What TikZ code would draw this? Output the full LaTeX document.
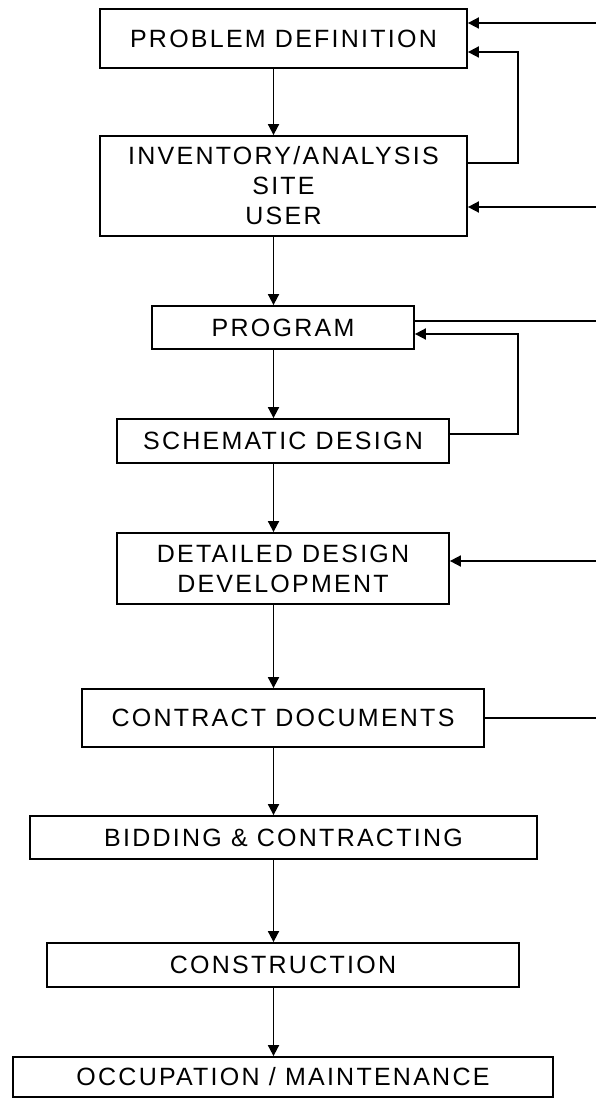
\documentclass[tikz,border=0pt]{standalone}
\usepackage{fontspec}
\setmainfont{Liberation Sans}[LetterSpace=9]
\usetikzlibrary{arrows.meta}
\tikzset{
  box/.style={draw, line width=1.8pt, inner sep=0pt, align=center,
    font=\fontsize{25}{30}\selectfont},
  flow/.style={line width=1.8pt, -{Triangle[length=11pt,width=11pt]}},
  link/.style={line width=1.8pt}
}
\begin{document}
\begin{tikzpicture}[x=1pt,y=-1pt]
\fill[white] (0,0) rectangle (596,1099);
\useasboundingbox (0,0) rectangle (596,1099);
% boxes
\node[box, minimum width=367pt, minimum height=59pt] (pd) at (283.5,38.5) {PROBLEM DEFINITION};
\node[box, minimum width=367pt, minimum height=100pt] (inv) at (283.5,186) {INVENTORY/ANALYSIS\\SITE\\USER};
\node[box, minimum width=262pt, minimum height=43pt] (prog) at (283,327.5) {PROGRAM};
\node[box, minimum width=332pt, minimum height=44pt] (sch) at (283,441) {SCHEMATIC DESIGN};
\node[box, minimum width=332pt, minimum height=71pt] (det) at (283,568.5) {DETAILED DESIGN\\DEVELOPMENT};
\node[box, minimum width=402pt, minimum height=58pt] (con) at (283,718) {CONTRACT DOCUMENTS};
\node[box, minimum width=507pt, minimum height=43pt] (bid) at (283.5,837.5) {BIDDING \& CONTRACTING};
\node[box, minimum width=472pt, minimum height=44pt] (cons) at (283,965) {CONSTRUCTION};
\node[box, minimum width=540pt, minimum height=40pt] (occ) at (283,1077) {OCCUPATION / MAINTENANCE};
% axis of the vertical flow
\coordinate (ax) at (273.5,0);
\draw[flow] (pd.south -| ax) -- (inv.north -| ax);
\draw[flow] (inv.south -| ax) -- (prog.north -| ax);
\draw[flow] (prog.south -| ax) -- (sch.north -| ax);
\draw[flow] (sch.south -| ax) -- (det.north -| ax);
\draw[flow] (det.south -| ax) -- (con.north -| ax);
\draw[flow] (con.south -| ax) -- (bid.north -| ax);
\draw[flow] (bid.south -| ax) -- (cons.north -| ax);
\draw[flow] (cons.south -| ax) -- (occ.north -| ax);
% right-hand feedback lines
\coordinate (e1) at (596,23);
\coordinate (e2) at (596,207);
\coordinate (e3) at (596,321);
\coordinate (e4) at (596,561);
\coordinate (e5) at (596,718);
\coordinate (lx) at (518,0);
\draw[flow] (e1) -- (e1 -| pd.east);
\draw[flow] (e2) -- (e2 -| inv.east);
\draw[link] (e3 -| prog.east) -- (e3);
\draw[flow] (e4) -- (e4 -| det.east);
\draw[link] (e5 -| con.east) -- (e5);
% loops
\coordinate (s1) at (inv.east |- 0,163);
\coordinate (t1) at (pd.east |- 0,52);
\draw[flow] (s1) -- (s1 -| lx) -- (t1 -| lx) -- (t1);
\coordinate (s2) at (sch.east |- 0,434);
\coordinate (t2) at (prog.east |- 0,334);
\draw[flow] (s2) -- (s2 -| lx) -- (t2 -| lx) -- (t2);
\end{tikzpicture}
\end{document}
